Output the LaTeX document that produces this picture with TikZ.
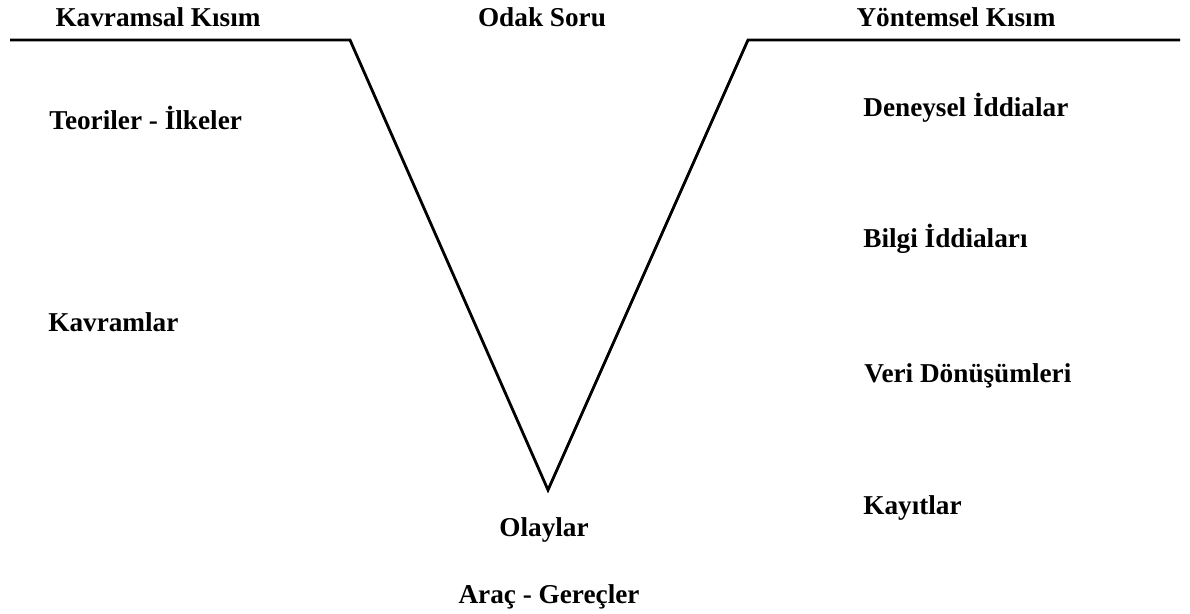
\documentclass[tikz,border=0pt]{standalone}
\usepackage{fontspec}
\setmainfont{Liberation Serif}
\usetikzlibrary{positioning}

\begin{document}
\begin{tikzpicture}[x=0.02cm, y=-0.02cm, font=\fontsize{15.5}{18}\selectfont\bfseries,
  lbl/.style={anchor=base west, inner sep=0pt},
  ttl/.style={anchor=base, inner sep=0pt}]
  \useasboundingbox (0,0) rectangle (1190,614);

  % V diagram
  \coordinate (l0) at (10,40);
  \coordinate (l1) at (350,40);
  \coordinate (tip) at (548,490);
  \coordinate (r1) at (748,40);
  \coordinate (r0) at (1180,40);
  \draw[line width=1.6pt] (l0) -- (l1) -- (tip) -- (r1) -- (r0);

  % headings
  \node[ttl] (kav) at (158,27) {Kavramsal Kısım};
  \node[ttl] (odak) at (542,27) {Odak Soru};
  \node[ttl] (yon) at (956,27) {Yöntemsel Kısım};

  % left side
  \node[lbl] (teo) at (49,130) {Teoriler - İlkeler};
  \node[lbl] (kvr) at (48,332) {Kavramlar};

  % right side
  \node[lbl] (den) at (863,117) {Deneysel İddialar};
  \node[lbl] (bil) at (863,248) {Bilgi İddiaları};
  \node[lbl] (veri) at (864,383) {Veri Dönüşümleri};
  \node[lbl] (kay) at (863,515) {Kayıtlar};

  % bottom
  \node[ttl] (ola) at (544,537) {Olaylar};
  \node[ttl] (arac) at (549,603) {Araç - Gereçler};
\end{tikzpicture}
\end{document}
